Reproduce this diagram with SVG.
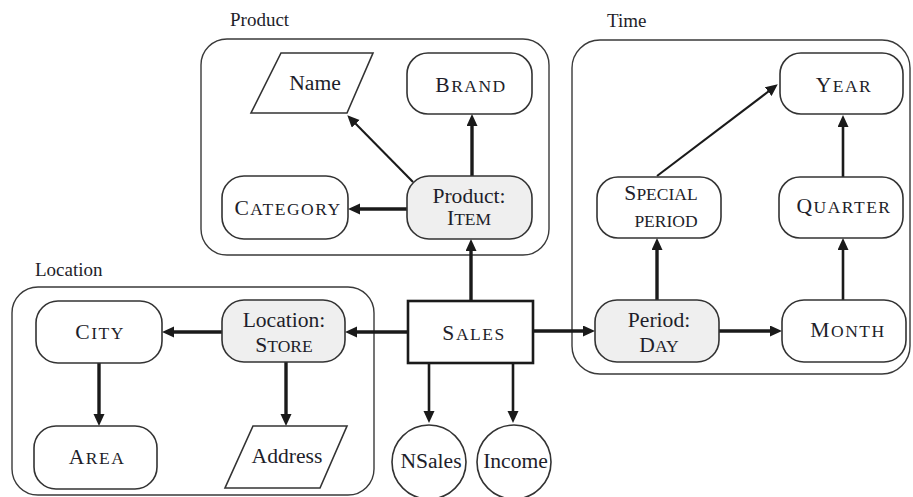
<svg xmlns="http://www.w3.org/2000/svg" width="913" height="497" viewBox="0 0 913 497">
  <defs>
    <marker id="ah" markerUnits="userSpaceOnUse" markerWidth="13" markerHeight="12" refX="6" refY="5.5" orient="auto">
      <path d="M0,0 L12,5.5 L0,11 z" fill="#1a1a1a"/>
    </marker>
  </defs>

  <rect width="913" height="497" fill="#fff"/>

  <!-- dimension groups -->
  <g id="dim-product">
    <rect x="201" y="39" width="348" height="216" rx="26" fill="none" stroke="#3a3a3a" stroke-width="1.4"/>
    <text x="230" y="26" font-family="Liberation Serif" font-size="19" fill="#1e1e2a">Product</text>
  </g>
  <g id="dim-time">
    <rect x="572" y="40" width="338" height="334" rx="28" fill="none" stroke="#3a3a3a" stroke-width="1.4"/>
    <text x="607" y="27" font-family="Liberation Serif" font-size="19" fill="#1e1e2a">Time</text>
  </g>
  <g id="dim-location">
    <rect x="12" y="287" width="362" height="208" rx="26" fill="none" stroke="#3a3a3a" stroke-width="1.4"/>
    <text x="35" y="276" font-family="Liberation Serif" font-size="19" fill="#1e1e2a">Location</text>
  </g>

  <!-- connectors -->
  <g id="connectors" fill="none" stroke="#1a1a1a" marker-end="url(#ah)">
    <path stroke-width="3.4" d="M408,332 H351"/>
    <path stroke-width="3.4" d="M222,332 H168"/>
    <path stroke-width="3.4" d="M99,363 V420"/>
    <path stroke-width="3.4" d="M286,362 V420"/>
    <path stroke-width="2.6" d="M429,363 V417"/>
    <path stroke-width="2.6" d="M513,363 V417"/>
    <path stroke-width="3.4" d="M471,301 V245"/>
    <path stroke-width="3.4" d="M472,176 V120"/>
    <path stroke-width="3.4" d="M407,209 H354"/>
    <path stroke-width="2.1" d="M413,182 L351.5,119.5"/>
    <path stroke-width="3.4" d="M533,331 H589"/>
    <path stroke-width="3.4" d="M719,331 H776"/>
    <path stroke-width="3.4" d="M657,300 V244"/>
    <path stroke-width="2.6" d="M843,300 V244"/>
    <path stroke-width="2.6" d="M843,177 V121"/>
    <path stroke-width="2.1" d="M657,176 L773,88"/>
  </g>

  <!-- product dimension -->
  <g id="node-name">
    <polygon points="281,53 373,53 347,113 251,113" fill="#fff" stroke="#333" stroke-width="1.6"/>
    <text x="315" y="90" font-family="Liberation Serif" font-size="21.6" fill="#1e1e2a" text-anchor="middle">Name</text>
  </g>
  <g id="node-brand">
    <rect x="407" y="53" width="125" height="61" rx="21" fill="#fff" stroke="#333" stroke-width="1.6"/>
    <text x="471" y="92" font-family="Liberation Serif" font-size="21.6" fill="#1e1e2a" text-anchor="middle" letter-spacing="1.5">B<tspan font-size="17.5">RAND</tspan></text>
  </g>
  <g id="node-category">
    <rect x="222" y="176" width="126" height="63" rx="22" fill="#fff" stroke="#333" stroke-width="1.6"/>
    <text x="288" y="215" font-family="Liberation Serif" font-size="21.6" fill="#1e1e2a" text-anchor="middle" letter-spacing="1.5">C<tspan font-size="17.5">ATEGORY</tspan></text>
  </g>
  <g id="node-item">
    <rect x="407" y="176" width="125" height="63" rx="22" fill="#efefef" stroke="#333" stroke-width="1.6"/>
    <text x="469" y="203" font-family="Liberation Serif" font-size="21.6" fill="#1e1e2a" text-anchor="middle">Product:</text>
    <text x="469" y="225" font-family="Liberation Serif" font-size="21.6" fill="#1e1e2a" text-anchor="middle">I<tspan font-size="17.5">TEM</tspan></text>
  </g>

  <!-- time dimension -->
  <g id="node-year">
    <rect x="780" y="53" width="123" height="61" rx="21" fill="#fff" stroke="#333" stroke-width="1.6"/>
    <text x="844" y="92" font-family="Liberation Serif" font-size="21.6" fill="#1e1e2a" text-anchor="middle" letter-spacing="1.5">Y<tspan font-size="17.5">EAR</tspan></text>
  </g>
  <g id="node-special-period">
    <rect x="597" y="177" width="124" height="61" rx="21" fill="#fff" stroke="#333" stroke-width="1.6"/>
    <text x="661" y="200" font-family="Liberation Serif" font-size="21.6" fill="#1e1e2a" text-anchor="middle">S<tspan font-size="17.5">PECIAL</tspan></text>
    <text x="666" y="227" font-family="Liberation Serif" font-size="17.5" fill="#1e1e2a" text-anchor="middle">PERIOD</text>
  </g>
  <g id="node-quarter">
    <rect x="779" y="177" width="124" height="61" rx="21" fill="#fff" stroke="#333" stroke-width="1.6"/>
    <text x="844" y="213" font-family="Liberation Serif" font-size="21.6" fill="#1e1e2a" text-anchor="middle" letter-spacing="1.5">Q<tspan font-size="17.5">UARTER</tspan></text>
  </g>
  <g id="node-day">
    <rect x="595" y="300" width="124" height="62" rx="22" fill="#efefef" stroke="#333" stroke-width="1.6"/>
    <text x="659" y="327" font-family="Liberation Serif" font-size="21.6" fill="#1e1e2a" text-anchor="middle">Period:</text>
    <text x="659" y="352" font-family="Liberation Serif" font-size="21.6" fill="#1e1e2a" text-anchor="middle">D<tspan font-size="17.5">AY</tspan></text>
  </g>
  <g id="node-month">
    <rect x="782" y="300" width="124" height="62" rx="22" fill="#fff" stroke="#333" stroke-width="1.6"/>
    <text x="848" y="337" font-family="Liberation Serif" font-size="21.6" fill="#1e1e2a" text-anchor="middle" letter-spacing="1.5">M<tspan font-size="17.5">ONTH</tspan></text>
  </g>

  <!-- location dimension -->
  <g id="node-city">
    <rect x="36" y="301" width="126" height="62" rx="22" fill="#fff" stroke="#333" stroke-width="1.6"/>
    <text x="100" y="339" font-family="Liberation Serif" font-size="21.6" fill="#1e1e2a" text-anchor="middle" letter-spacing="1.5">C<tspan font-size="17.5">ITY</tspan></text>
  </g>
  <g id="node-store">
    <rect x="222" y="300" width="123" height="62" rx="22" fill="#efefef" stroke="#333" stroke-width="1.6"/>
    <text x="284" y="327" font-family="Liberation Serif" font-size="21.6" fill="#1e1e2a" text-anchor="middle">Location:</text>
    <text x="284" y="352" font-family="Liberation Serif" font-size="21.6" fill="#1e1e2a" text-anchor="middle">S<tspan font-size="17.5">TORE</tspan></text>
  </g>
  <g id="node-area">
    <rect x="34" y="426" width="123" height="63" rx="22" fill="#fff" stroke="#333" stroke-width="1.6"/>
    <text x="97" y="464" font-family="Liberation Serif" font-size="21.6" fill="#1e1e2a" text-anchor="middle" letter-spacing="1.5">A<tspan font-size="17.5">REA</tspan></text>
  </g>
  <g id="node-address">
    <polygon points="253,426 347,426 320,488 225,488" fill="#fff" stroke="#333" stroke-width="1.6"/>
    <text x="287" y="463" font-family="Liberation Serif" font-size="21.6" fill="#1e1e2a" text-anchor="middle">Address</text>
  </g>

  <!-- fact and measures -->
  <g id="node-sales">
    <rect x="408" y="301" width="125" height="62" fill="#fff" stroke="#1a1a1a" stroke-width="2.6"/>
    <text x="474" y="340" font-family="Liberation Serif" font-size="21.6" fill="#1e1e2a" text-anchor="middle" letter-spacing="1.5">S<tspan font-size="17.5">ALES</tspan></text>
  </g>
  <g id="node-nsales">
    <circle cx="429" cy="462" r="37" fill="#fff" stroke="#333" stroke-width="1.6"/>
    <text x="431" y="468" font-family="Liberation Serif" font-size="21.6" fill="#1e1e2a" text-anchor="middle">NSales</text>
  </g>
  <g id="node-income">
    <circle cx="514" cy="462" r="37" fill="#fff" stroke="#333" stroke-width="1.6"/>
    <text x="515.5" y="468" font-family="Liberation Serif" font-size="21.6" fill="#1e1e2a" text-anchor="middle">Income</text>
  </g>
</svg>
